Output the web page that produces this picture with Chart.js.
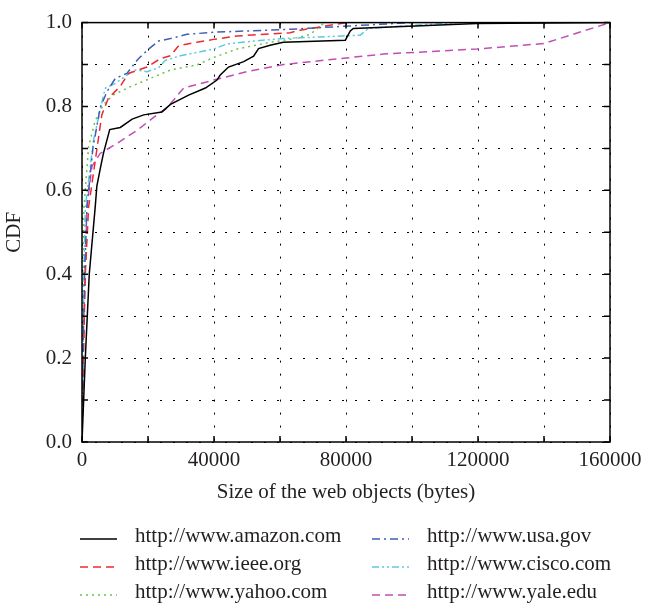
<!DOCTYPE html>
<html>
<head>
<meta charset="utf-8">
<title>CDF of web object sizes</title>
<style>
html, body { margin: 0; padding: 0; background: #fff; }
#wrap { width: 652px; height: 608px; }
</style>
</head>
<body>
<div id="wrap">
  <canvas id="chart" width="652" height="608"></canvas>
</div>
<script src="https://cdn.jsdelivr.net/npm/chart.js"></script>
<script>
  // object sizes (bytes) and cumulative fraction
  const amazonX = [0, 1000, 2200, 4000, 4500, 5750, 6550, 8400, 11600, 15200, 18700, 24200, 26800, 32300, 37400, 40900, 41900, 44400, 49000, 52000, 53500, 57000, 61000, 79800, 81300, 82200, 119700, 160000];
  const amazonY = [0, 0.2, 0.4, 0.56, 0.61, 0.66, 0.69, 0.745, 0.75, 0.77, 0.78, 0.787, 0.805, 0.827, 0.844, 0.863, 0.875, 0.894, 0.907, 0.92, 0.938, 0.946, 0.953, 0.958, 0.98, 0.986, 0.998, 1.0];

  const usaX = [0, 300, 800, 1500, 3300, 5500, 7600, 10100, 13600, 17100, 20200, 23200, 26800, 31800, 39900, 63100, 81300, 99500];
  const usaY = [0, 0.2, 0.4, 0.56, 0.70, 0.797, 0.836, 0.867, 0.879, 0.914, 0.937, 0.956, 0.962, 0.972, 0.977, 0.984, 0.992, 1.0];

  const ieeeX = [0, 400, 1000, 2000, 6000, 8000, 11600, 14100, 19700, 23700, 26800, 29300, 34800, 39900, 47000, 63100, 66100, 76200, 80300];
  const ieeeY = [0, 0.2, 0.4, 0.56, 0.78, 0.82, 0.848, 0.879, 0.894, 0.914, 0.921, 0.945, 0.953, 0.96, 0.968, 0.976, 0.982, 0.995, 1.0];

  const ciscoX = [0, 300, 600, 1000, 3500, 6550, 7100, 10100, 13600, 16150, 19700, 23200, 25200, 29800, 39900, 43900, 52000, 61000, 84300, 86800, 99500, 113600];
  const ciscoY = [0, 0.2, 0.4, 0.56, 0.72, 0.828, 0.844, 0.855, 0.875, 0.887, 0.883, 0.892, 0.91, 0.921, 0.937, 0.949, 0.956, 0.962, 0.97, 0.986, 0.993, 1.0];

  const yahooX = [0, 200, 400, 600, 2000, 4000, 6550, 9600, 14600, 20700, 26800, 34800, 39900, 47000, 57000, 63100, 69200, 72200, 73700];
  const yahooY = [0, 0.2, 0.4, 0.56, 0.704, 0.766, 0.805, 0.828, 0.847, 0.867, 0.887, 0.899, 0.917, 0.937, 0.953, 0.96, 0.972, 0.992, 1.0];

  const yaleX = [0, 400, 900, 1500, 3000, 5500, 10600, 16700, 21700, 25800, 30800, 39900, 50000, 61100, 91300, 119700, 139900, 160000];
  const yaleY = [0, 0.2, 0.4, 0.56, 0.657, 0.688, 0.712, 0.743, 0.774, 0.797, 0.844, 0.863, 0.883, 0.9, 0.925, 0.937, 0.95, 1.0];

  const siteNames = ['http://www.amazon.com', 'http://www.usa.gov', 'http://www.ieee.org',
                     'http://www.cisco.com', 'http://www.yahoo.com', 'http://www.yale.edu'];

  const serif = '"Liberation Serif", "DejaVu Serif", serif';
  const ink = '#231f20';

  function pts(xs, ys) {
    return xs.map((v, i) => ({x: v, y: ys[i]}));
  }

  function line(label, xs, ys, color, dash) {
    return {
      label: label,
      data: pts(xs, ys),
      borderColor: color,
      backgroundColor: color,
      borderDash: dash,
      borderWidth: 1.5,
      pointRadius: 0,
      tension: 0,
      fill: false
    };
  }

  // box round the plot, with short ticks pointing inwards
  const frame = {
    id: 'frame',
    afterDatasetsDraw(chart) {
      const {ctx, chartArea: a, scales: {x, y}} = chart;
      ctx.save();
      ctx.strokeStyle = '#000';
      ctx.lineWidth = 1.5;
      ctx.setLineDash([]);
      ctx.strokeRect(a.left, a.top, a.width, a.height);
      ctx.beginPath();
      x.ticks.forEach(t => {
        const p = x.getPixelForValue(t.value);
        ctx.moveTo(p, a.bottom); ctx.lineTo(p, a.bottom - 6);
        ctx.moveTo(p, a.top); ctx.lineTo(p, a.top + 6);
      });
      y.ticks.forEach(t => {
        const p = y.getPixelForValue(t.value);
        ctx.moveTo(a.left, p); ctx.lineTo(a.left + 6, p);
        ctx.moveTo(a.right, p); ctx.lineTo(a.right - 6, p);
      });
      ctx.stroke();
      ctx.restore();
    }
  };

  // two-column legend under the axis title
  const sideLegend = {
    id: 'sideLegend',
    afterDraw(chart) {
      const ctx = chart.ctx;
      const colX = [80, 372];
      const rowY = [542, 570, 598];
      ctx.save();
      ctx.font = '21px ' + serif;
      ctx.textBaseline = 'alphabetic';
      ctx.textAlign = 'left';
      chart.data.datasets.forEach((ds, i) => {
        const x0 = colX[i % 2];
        const yb = rowY[Math.floor(i / 2)];
        ctx.strokeStyle = ds.borderColor;
        ctx.lineWidth = 1.5;
        ctx.setLineDash(ds.borderDash || []);
        ctx.beginPath();
        ctx.moveTo(x0, yb - 3);
        ctx.lineTo(x0 + 37, yb - 3);
        ctx.stroke();
        ctx.setLineDash([]);
        ctx.fillStyle = ink;
        ctx.fillText(ds.label, x0 + 55, yb);
      });
      ctx.restore();
    }
  };

  const ctx = document.getElementById('chart');

  let chart = new Chart(ctx, {
    type: 'line',
    data: {
      datasets: [
        line(siteNames[0], amazonX, amazonY, '#000000', []),
        line(siteNames[1], usaX, usaY, '#3f5fb5', [8, 4, 2, 4]),
        line(siteNames[2], ieeeX, ieeeY, '#ee2a2e', [8, 5]),
        line(siteNames[3], ciscoX, ciscoY, '#5ccadd', [7, 3, 2, 3, 2, 3]),
        line(siteNames[4], yahooX, yahooY, '#6cc24a', [2, 4]),
        line(siteNames[5], yaleX, yaleY, '#c04fb4', [8, 5])
      ]
    },
    options: {
      responsive: false,
      animation: false,
      layout: { padding: { left: 2, top: 13, right: 42, bottom: 102 } },
      plugins: {
        legend: { display: false },
        tooltip: { enabled: false }
      },
      scales: {
        x: {
          type: 'linear',
          min: 0,
          max: 160000,
          afterFit: s => { s.height = 64; },
          grid: { color: '#000', lineWidth: 1, drawTicks: false },
          border: { display: false, dash: [2, 11] },
          ticks: {
            stepSize: 20000,
            autoSkip: false,
            maxRotation: 0,
            padding: 6,
            color: ink,
            font: { family: serif, size: 21 },
            callback: v => (v % 40000 === 0 ? String(v) : '')
          },
          title: {
            display: true,
            text: 'Size of the web objects (bytes)',
            color: ink,
            font: { family: serif, size: 21 },
            padding: { top: 0, bottom: 1 }
          }
        },
        y: {
          min: 0,
          max: 1,
          afterFit: s => { s.width = 80; },
          grid: { color: '#000', lineWidth: 1, drawTicks: false },
          border: { display: false, dash: [2, 11] },
          ticks: {
            stepSize: 0.1,
            autoSkip: false,
            padding: 10,
            color: ink,
            font: { family: serif, size: 21 },
            callback: v => (Math.round(v * 10) % 2 === 0 ? v.toFixed(1) : '')
          },
          title: {
            display: true,
            text: 'CDF',
            color: ink,
            font: { family: serif, size: 21 },
            padding: { top: 0, bottom: 0 }
          }
        }
      }
    },
    plugins: [frame, sideLegend]
  });
</script>
</body>
</html>
